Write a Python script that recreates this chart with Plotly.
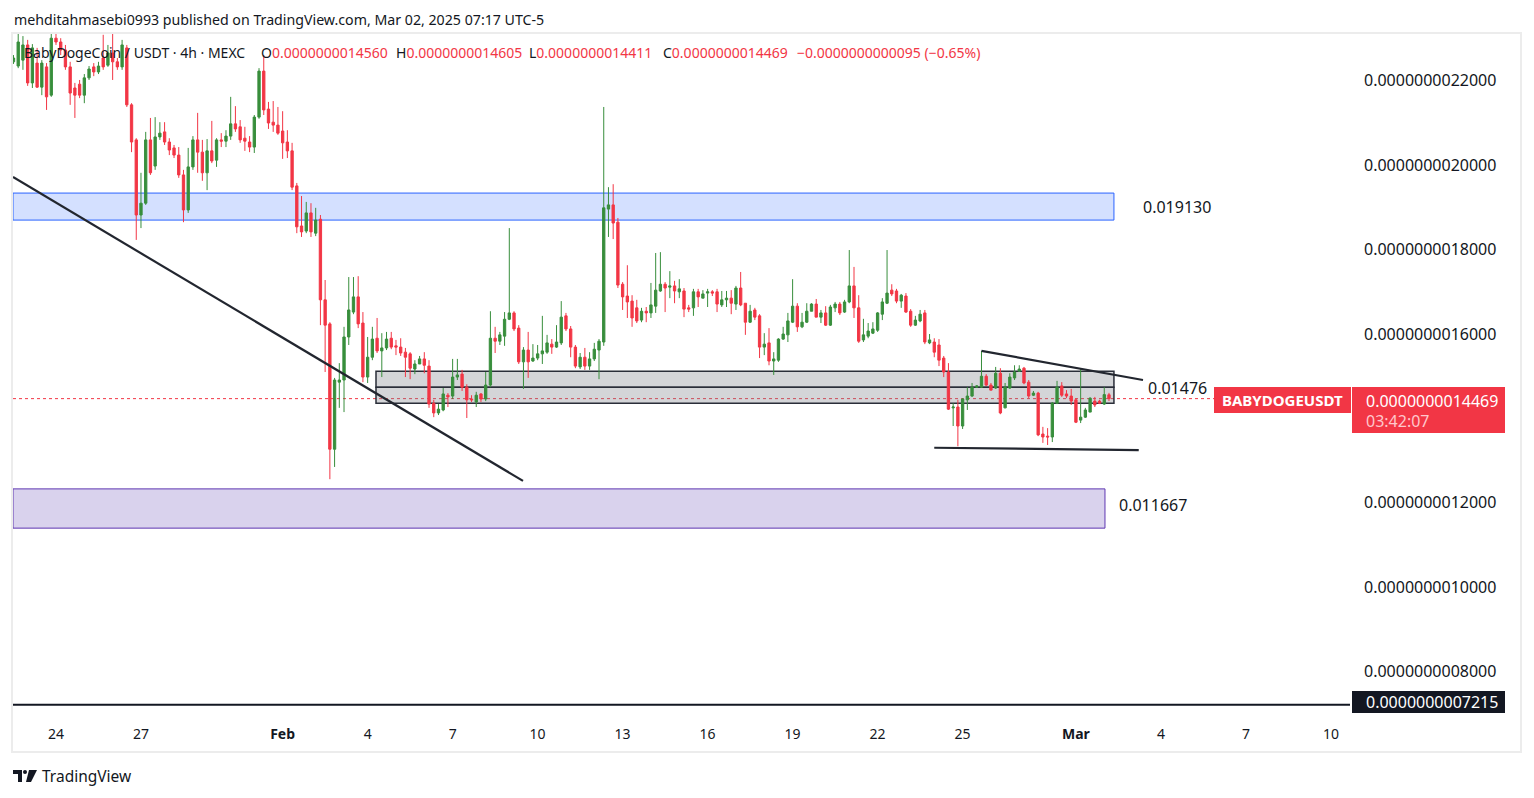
import plotly.graph_objects as go
import pandas as pd

# ---------------- data (prices in units of 1e-9 USDT) ----------------
UNIT = 1e-9
BAR_START = "2025-01-22 15:00"
BAR_FREQ = "4h"

opens = [
    2.245, 2.235, 2.249, 2.285, 2.195, 2.242, 2.185, 2.233, 2.166, 2.301,
    2.292, 2.273, 2.233, 2.183, 2.192, 2.166, 2.207, 2.233, 2.221, 2.254,
    2.237, 2.266, 2.245, 2.233, 2.278, 2.143, 2.060, 1.882, 1.910, 2.060,
    1.998, 2.067, 2.079, 2.055, 2.041, 2.024, 1.977, 1.894, 1.996, 2.060,
    2.031, 1.982, 2.034, 2.012, 2.060, 2.057, 2.069, 2.098, 2.091, 2.064,
    2.055, 2.043, 2.114, 2.223, 2.133, 2.102, 2.095, 2.081, 2.055, 2.034,
    1.951, 1.856, 1.844, 1.887, 1.839, 1.872, 1.681, 1.624, 1.327, 1.486,
    1.491, 1.593, 1.652, 1.688, 1.626, 1.498, 1.545, 1.590, 1.560, 1.567,
    1.590, 1.572, 1.569, 1.557, 1.553, 1.517, 1.529, 1.541, 1.524, 1.436,
    1.413, 1.420, 1.455, 1.453, 1.498, 1.505, 1.474, 1.446, 1.439, 1.458,
    1.446, 1.479, 1.590, 1.583, 1.595, 1.635, 1.650, 1.614, 1.534, 1.562,
    1.536, 1.543, 1.553, 1.557, 1.576, 1.569, 1.579, 1.643, 1.612, 1.569,
    1.522, 1.545, 1.524, 1.541, 1.562, 1.581, 1.896, 1.906, 1.865, 1.718,
    1.690, 1.678, 1.662, 1.633, 1.654, 1.650, 1.666, 1.702, 1.718, 1.711,
    1.714, 1.700, 1.702, 1.662, 1.662, 1.700, 1.685, 1.697, 1.700, 1.700,
    1.669, 1.681, 1.685, 1.671, 1.709, 1.673, 1.628, 1.657, 1.643, 1.569,
    1.579, 1.536, 1.538, 1.588, 1.598, 1.628, 1.666, 1.617, 1.628, 1.654,
    1.671, 1.640, 1.650, 1.621, 1.662, 1.671, 1.652, 1.676, 1.714, 1.662,
    1.586, 1.595, 1.602, 1.609, 1.647, 1.673, 1.704, 1.702, 1.678, 1.690,
    1.654, 1.621, 1.631, 1.650, 1.579, 1.581, 1.574, 1.543, 1.510, 1.425,
    1.427, 1.382, 1.444, 1.453, 1.474, 1.474, 1.500, 1.479, 1.472, 1.507,
    1.425, 1.472, 1.496, 1.512, 1.519, 1.486, 1.455, 1.460, 1.363, 1.358,
    1.356, 1.436, 1.477, 1.458, 1.453, 1.444, 1.396, 1.403, 1.415, 1.441,
    1.441, 1.434, 1.4560,
]
highs = [
    2.261, 2.311, 2.306, 2.297, 2.287, 2.278, 2.249, 2.242, 2.311, 2.313,
    2.301, 2.285, 2.245, 2.195, 2.202, 2.216, 2.235, 2.242, 2.245, 2.309,
    2.285, 2.313, 2.254, 2.297, 2.285, 2.147, 2.064, 1.982, 2.079, 2.112,
    2.114, 2.102, 2.102, 2.064, 2.048, 2.043, 1.989, 2.041, 2.069, 2.124,
    2.060, 2.062, 2.105, 2.064, 2.076, 2.083, 2.162, 2.140, 2.107, 2.091,
    2.069, 2.119, 2.230, 2.261, 2.150, 2.152, 2.138, 2.128, 2.083, 2.053,
    1.958, 1.927, 1.913, 1.910, 1.899, 1.882, 1.728, 1.628, 1.496, 1.531,
    1.617, 1.735, 1.735, 1.737, 1.652, 1.593, 1.617, 1.638, 1.602, 1.605,
    1.605, 1.586, 1.590, 1.567, 1.557, 1.538, 1.548, 1.557, 1.538, 1.444,
    1.434, 1.472, 1.460, 1.541, 1.541, 1.515, 1.481, 1.455, 1.463, 1.460,
    1.510, 1.654, 1.617, 1.605, 1.652, 1.851, 1.654, 1.621, 1.569, 1.605,
    1.576, 1.574, 1.643, 1.598, 1.588, 1.621, 1.678, 1.650, 1.619, 1.574,
    1.555, 1.567, 1.557, 1.579, 1.588, 2.138, 1.948, 1.955, 1.875, 1.723,
    1.763, 1.692, 1.681, 1.662, 1.664, 1.721, 1.792, 1.794, 1.723, 1.749,
    1.726, 1.730, 1.709, 1.669, 1.707, 1.707, 1.704, 1.707, 1.704, 1.707,
    1.702, 1.702, 1.704, 1.714, 1.747, 1.673, 1.669, 1.662, 1.647, 1.602,
    1.614, 1.557, 1.590, 1.617, 1.650, 1.730, 1.673, 1.650, 1.673, 1.673,
    1.683, 1.657, 1.666, 1.669, 1.676, 1.676, 1.681, 1.799, 1.759, 1.692,
    1.636, 1.626, 1.628, 1.652, 1.685, 1.799, 1.718, 1.707, 1.695, 1.697,
    1.659, 1.643, 1.657, 1.657, 1.600, 1.590, 1.588, 1.548, 1.531, 1.436,
    1.444, 1.448, 1.474, 1.484, 1.479, 1.560, 1.505, 1.484, 1.522, 1.519,
    1.484, 1.507, 1.526, 1.526, 1.522, 1.491, 1.465, 1.463, 1.380, 1.377,
    1.439, 1.489, 1.486, 1.467, 1.470, 1.448, 1.519, 1.425, 1.450, 1.451,
    1.444, 1.474, 1.4605,
]
lows = [
    2.240, 2.230, 2.226, 2.188, 2.183, 2.183, 2.166, 2.131, 2.162, 2.285,
    2.261, 2.226, 2.143, 2.112, 2.159, 2.147, 2.202, 2.211, 2.216, 2.226,
    2.233, 2.202, 2.226, 2.226, 2.138, 2.031, 1.823, 1.851, 1.906, 1.977,
    1.989, 2.060, 2.048, 2.024, 2.017, 1.970, 1.865, 1.887, 1.989, 1.982,
    1.963, 1.941, 2.005, 1.996, 2.043, 2.043, 2.060, 2.079, 2.053, 2.034,
    2.031, 2.029, 2.110, 2.119, 2.086, 2.079, 2.072, 2.015, 2.017, 1.941,
    1.839, 1.830, 1.839, 1.830, 1.832, 1.621, 1.510, 1.256, 1.285, 1.425,
    1.415, 1.574, 1.647, 1.614, 1.486, 1.484, 1.538, 1.555, 1.498, 1.562,
    1.564, 1.550, 1.548, 1.498, 1.493, 1.505, 1.534, 1.507, 1.425, 1.403,
    1.408, 1.417, 1.427, 1.446, 1.491, 1.465, 1.401, 1.439, 1.427, 1.439,
    1.441, 1.474, 1.555, 1.574, 1.572, 1.633, 1.607, 1.529, 1.470, 1.496,
    1.534, 1.538, 1.529, 1.553, 1.553, 1.567, 1.574, 1.607, 1.545, 1.519,
    1.517, 1.515, 1.515, 1.536, 1.493, 1.572, 1.830, 1.825, 1.709, 1.657,
    1.638, 1.617, 1.626, 1.628, 1.628, 1.638, 1.650, 1.700, 1.652, 1.685,
    1.673, 1.685, 1.640, 1.652, 1.643, 1.664, 1.685, 1.664, 1.690, 1.652,
    1.664, 1.664, 1.647, 1.657, 1.666, 1.598, 1.626, 1.633, 1.543, 1.550,
    1.526, 1.503, 1.534, 1.586, 1.581, 1.626, 1.605, 1.614, 1.626, 1.654,
    1.640, 1.626, 1.619, 1.619, 1.652, 1.645, 1.650, 1.673, 1.638, 1.579,
    1.581, 1.590, 1.600, 1.605, 1.633, 1.671, 1.690, 1.673, 1.662, 1.650,
    1.617, 1.619, 1.628, 1.576, 1.576, 1.545, 1.524, 1.498, 1.420, 1.382,
    1.334, 1.375, 1.420, 1.451, 1.472, 1.472, 1.477, 1.467, 1.470, 1.410,
    1.424, 1.470, 1.491, 1.510, 1.481, 1.448, 1.453, 1.358, 1.342, 1.337,
    1.344, 1.434, 1.451, 1.448, 1.432, 1.389, 1.389, 1.401, 1.415, 1.427,
    1.434, 1.432, 1.4411,
]
closes = [
    2.254, 2.292, 2.285, 2.195, 2.278, 2.185, 2.242, 2.162, 2.301, 2.292,
    2.273, 2.233, 2.171, 2.166, 2.166, 2.207, 2.228, 2.221, 2.235, 2.233,
    2.266, 2.245, 2.233, 2.285, 2.143, 2.055, 1.882, 1.910, 2.060, 1.982,
    2.067, 2.076, 2.055, 2.036, 2.024, 1.977, 1.894, 1.996, 2.060, 2.031,
    1.982, 2.034, 2.010, 2.060, 2.057, 2.069, 2.098, 2.086, 2.060, 2.057,
    2.043, 2.114, 2.223, 2.131, 2.100, 2.095, 2.076, 2.053, 2.034, 1.948,
    1.854, 1.842, 1.887, 1.842, 1.870, 1.681, 1.621, 1.327, 1.491, 1.491,
    1.593, 1.657, 1.688, 1.624, 1.498, 1.545, 1.588, 1.560, 1.567, 1.588,
    1.569, 1.569, 1.555, 1.545, 1.519, 1.529, 1.541, 1.526, 1.434, 1.413,
    1.422, 1.458, 1.451, 1.498, 1.503, 1.474, 1.444, 1.444, 1.455, 1.446,
    1.479, 1.590, 1.583, 1.598, 1.635, 1.650, 1.612, 1.534, 1.562, 1.534,
    1.543, 1.553, 1.560, 1.579, 1.569, 1.581, 1.640, 1.612, 1.569, 1.524,
    1.545, 1.524, 1.541, 1.564, 1.583, 1.899, 1.906, 1.863, 1.716, 1.688,
    1.676, 1.638, 1.631, 1.654, 1.650, 1.669, 1.704, 1.718, 1.709, 1.714,
    1.702, 1.707, 1.659, 1.659, 1.700, 1.688, 1.695, 1.700, 1.697, 1.671,
    1.681, 1.685, 1.673, 1.709, 1.669, 1.628, 1.654, 1.640, 1.569, 1.576,
    1.536, 1.541, 1.588, 1.600, 1.631, 1.666, 1.617, 1.628, 1.654, 1.671,
    1.640, 1.650, 1.621, 1.664, 1.671, 1.650, 1.676, 1.714, 1.662, 1.583,
    1.598, 1.607, 1.612, 1.650, 1.676, 1.697, 1.695, 1.678, 1.692, 1.652,
    1.621, 1.633, 1.647, 1.581, 1.586, 1.557, 1.538, 1.510, 1.422, 1.427,
    1.382, 1.446, 1.453, 1.474, 1.477, 1.500, 1.479, 1.467, 1.507, 1.413,
    1.474, 1.498, 1.510, 1.517, 1.484, 1.453, 1.460, 1.361, 1.356, 1.356,
    1.436, 1.474, 1.455, 1.453, 1.441, 1.391, 1.403, 1.420, 1.448, 1.432,
    1.436, 1.4564, 1.4469,
]

day_ticks = ["2025-01-24", "2025-01-27", "2025-02-01", "2025-02-04", "2025-02-07",
             "2025-02-10", "2025-02-13", "2025-02-16", "2025-02-19", "2025-02-22",
             "2025-02-25", "2025-03-01", "2025-03-04", "2025-03-07", "2025-03-10"]
day_labels = ["24", "27", "Feb", "4", "7", "10", "13", "16", "19", "22",
              "25", "Mar", "4", "7", "10"]
month_labels = {"Feb", "Mar"}
price_ticks = [0.8, 1.0, 1.2, 1.6, 1.8, 2.0, 2.2]

x_range = ["2025-01-22 14:35", "2025-03-10 19:10"]
y_range = [0.6901, 2.3133]

blue_zone = [1.870, 1.934]
gray_zone = [1.436, 1.474, 1.512]
purple_zone = [1.140, 1.233]
zone_end = "2025-03-02 11:12"
gray_start = "2025-02-04 10:05"
purple_end = "2025-03-02 03:36"
level_texts = ["0.019130", "0.01476", "0.011667"]
level_prices = [1.901, 1.472, 1.194]
h_level = 0.7215
trend_main = [("2025-01-22 14:35", 1.972), ("2025-02-09 14:36", 1.252)]
tri_top = [("2025-02-25 19:00", 1.560), ("2025-03-03 11:48", 1.491)]
tri_bottom = [("2025-02-24 03:00", 1.3305), ("2025-03-03 08:12", 1.325)]
countdown = "03:42:07"
symbol = "BABYDOGEUSDT"

# ---------------- layout helpers ----------------
# The page body has an 8px margin, so the figure is offset by 8px on screen.
OFF = 8
SW, SH = 1534, 798                 # screen size
W, H = SW - 2 * OFF, SH - 2 * OFF  # figure size
PL, PR, PT, PB = 13, 1350, 33, 718  # plot area in screen pixels
FONT = "Noto Sans"
TXT = "#131722"
UP, DOWN = "#388e3c", "#f23645"


def fx(px):
    return (px - PL) / (PR - PL)


def fy(py):
    return (PB - py) / (PB - PT)


def fmt(v):
    return f"{v * UNIT:.13f}"


times = pd.date_range(BAR_START, periods=len(opens), freq=BAR_FREQ)
sc = lambda arr: [v * UNIT for v in arr]

fig = go.Figure()
fig.add_trace(go.Candlestick(
    x=times, open=sc(opens), high=sc(highs), low=sc(lows), close=sc(closes),
    increasing=dict(line=dict(color=UP, width=1), fillcolor=UP),
    decreasing=dict(line=dict(color=DOWN, width=1), fillcolor=DOWN),
    whiskerwidth=0, hoverinfo="skip", showlegend=False,
))

shapes = []
# zones
shapes.append(dict(type="rect", xref="x", yref="y", x0=x_range[0], x1=zone_end,
                   y0=blue_zone[0] * UNIT, y1=blue_zone[1] * UNIT,
                   fillcolor="rgba(41,98,255,0.2)", line=dict(color="#2962ff", width=1),
                   layer="below"))
for lo, hi in [(gray_zone[0], gray_zone[1]), (gray_zone[1], gray_zone[2])]:
    shapes.append(dict(type="rect", xref="x", yref="y", x0=gray_start, x1=zone_end,
                       y0=lo * UNIT, y1=hi * UNIT,
                       fillcolor="rgba(120,123,134,0.32)", line=dict(color="#2a2e39", width=1.5),
                       layer="below"))
shapes.append(dict(type="rect", xref="x", yref="y", x0=x_range[0], x1=purple_end,
                   y0=purple_zone[0] * UNIT, y1=purple_zone[1] * UNIT,
                   fillcolor="rgba(116,90,190,0.27)", line=dict(color="#5e35b1", width=1),
                   layer="below"))
# current price dotted line
shapes.append(dict(type="line", xref="paper", yref="y", x0=0, x1=fx(1215),
                   y0=closes[-1] * UNIT, y1=closes[-1] * UNIT,
                   line=dict(color=DOWN, width=1, dash="dot"), layer="below"))
# horizontal level
shapes.append(dict(type="line", xref="paper", yref="y", x0=0, x1=1,
                   y0=h_level * UNIT, y1=h_level * UNIT,
                   line=dict(color=TXT, width=2)))
# trend lines
for (t0, p0), (t1, p1) in [trend_main, tri_top, tri_bottom]:
    shapes.append(dict(type="line", xref="x", yref="y", x0=t0, x1=t1,
                       y0=p0 * UNIT, y1=p1 * UNIT,
                       line=dict(color="#22262f", width=2.2)))
# price-scale labels (boxes)
shapes.append(dict(type="rect", xref="paper", yref="paper", x0=fx(1214), x1=fx(1351),
                   y0=fy(413), y1=fy(387), fillcolor=DOWN, line=dict(width=0)))
shapes.append(dict(type="rect", xref="paper", yref="paper", x0=fx(1352), x1=fx(1505),
                   y0=fy(433), y1=fy(387), fillcolor=DOWN, line=dict(width=0)))
shapes.append(dict(type="rect", xref="paper", yref="paper", x0=fx(1352), x1=fx(1505),
                   y0=fy(713), y1=fy(691), fillcolor=TXT, line=dict(width=0)))
# outer frame
shapes.append(dict(type="rect", xref="paper", yref="paper", x0=fx(12), x1=fx(1521),
                   y0=fy(752), y1=fy(33), line=dict(color="#ececec", width=2)))
# TradingView logo
def P(px, py):
    return f"{fx(px):.5f},{fy(py):.5f}"
logo1 = f"M{P(13,770)} L{P(22,770)} L{P(22,782)} L{P(18,782)} L{P(18,774)} L{P(13,774)} Z"
logo2 = f"M{P(29,770)} L{P(37,770)} L{P(31,782)} L{P(26,782)} Z"
shapes.append(dict(type="path", xref="paper", yref="paper", path=logo1,
                   fillcolor=TXT, line=dict(width=0)))
shapes.append(dict(type="path", xref="paper", yref="paper", path=logo2,
                   fillcolor=TXT, line=dict(width=0)))
shapes.append(dict(type="circle", xref="paper", yref="paper", x0=fx(23), x1=fx(27),
                   y0=fy(774), y1=fy(770), fillcolor=TXT, line=dict(width=0)))

ann = []
def A(text, px, py, size=14, color=TXT, xanchor="left", **kw):
    ann.append(dict(text=text, x=fx(px), y=fy(py), xref="paper", yref="paper",
                    xanchor=xanchor, yanchor="middle", showarrow=False,
                    font=dict(family=FONT, size=size, color=color), **kw))

A("mehditahmasebi0993 published on TradingView.com, Mar 02, 2025 07:17 UTC-5", 12, 19, size=14.2)
A("BabyDogeCoin / USDT · 4h · MEXC", 22, 53)
o, h, l, c = opens[-1], highs[-1], lows[-1], closes[-1]
chg = c - closes[-2]
pct = chg / closes[-2] * 100
red = lambda s: f"<span style='color:{DOWN}'>{s}</span>"
A("O" + red(fmt(o)), 259, 53)
A("H" + red(fmt(h)), 394, 53)
A("L" + red(fmt(l)), 527, 53)
A("C" + red(fmt(c)), 661, 53)
A(red(f"\u2212{fmt(abs(chg))} (\u2212{abs(pct):.2f}%)"), 795, 53)

for txt, pr, px in zip(level_texts, level_prices, [1141, 1146, 1117]):
    ann.append(dict(text=txt, x=fx(px), y=pr * UNIT, xref="paper", yref="y",
                    xanchor="left", yanchor="middle", showarrow=False,
                    font=dict(family=FONT, size=16, color=TXT)))

A(f"<b>{symbol}</b>", 1282, 400, size=15, color="white", xanchor="center")
A(fmt(c), 1364, 401, size=16, color="white")
A(countdown, 1364, 421, size=16, color="#ffc7cc")
A(fmt(h_level), 1364, 702, size=16, color="white")
A("TradingView", 40, 776, size=15.5)

tick_times = [pd.Timestamp(d) + pd.Timedelta(hours=3) for d in day_ticks]
tick_text = [f"<b>{t}</b>" if t in month_labels else t for t in day_labels]

fig.update_layout(
    width=W, height=H,
    margin=dict(l=PL - OFF, r=(OFF + W) - PR, t=PT - OFF, b=(OFF + H) - PB),
    paper_bgcolor="white", plot_bgcolor="white",
    showlegend=False, hovermode=False,
    shapes=shapes, annotations=ann,
    font=dict(family=FONT, color=TXT),
    xaxis=dict(type="date", range=x_range, rangeslider=dict(visible=False),
               tickvals=tick_times, ticktext=tick_text, showgrid=False,
               zeroline=False, showline=False, ticks="", fixedrange=True,
               tickfont=dict(family=FONT, size=14, color=TXT), automargin=False,
               ticklabelstandoff=6),
    yaxis=dict(side="right", range=[y_range[0] * UNIT, y_range[1] * UNIT],
               tickvals=[v * UNIT for v in price_ticks], tickformat=".13f",
               showgrid=False, zeroline=False, showline=False, ticks="",
               fixedrange=True, automargin=False, ticklabelstandoff=13,
               tickfont=dict(family=FONT, size=16, color=TXT)),
)

fig.write_html("out.html", config={"displayModeBar": False})
